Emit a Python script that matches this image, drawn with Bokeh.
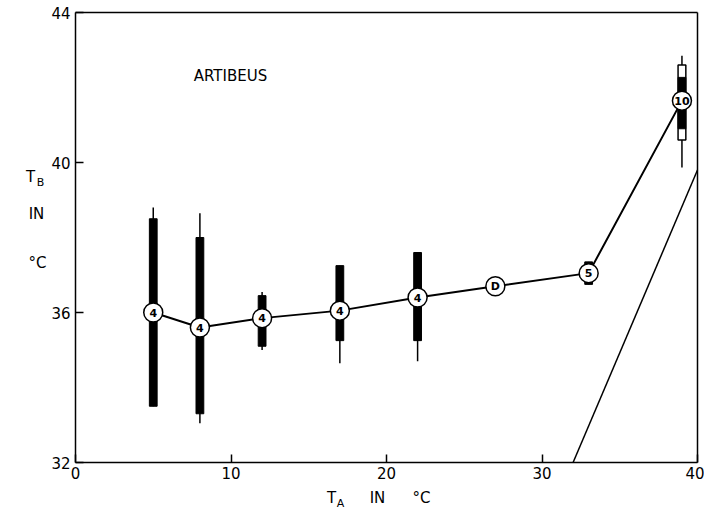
from bokeh.plotting import figure
from bokeh.models import Range1d, FixedTicker, Label, ColumnDataSource, LinearAxis
from bokeh.core.properties import value
from bokeh.embed import file_html
from bokeh.resources import INLINE

# ---- data ----
ta = [5, 8, 12, 17, 22, 27, 33, 39]
tb_mean = [36.0, 35.6, 35.85, 36.05, 36.4, 36.7, 37.05, 41.65]
n_labels = ["4", "4", "4", "4", "4", "D", "5", "10"]
bar_lo = [33.5, 33.3, 35.1, 35.25, 35.25, None, 36.75, 40.9]
bar_hi = [38.5, 38.0, 36.45, 37.25, 37.6, None, 37.35, 42.27]
wh_lo = [33.5, 33.05, 35.0, 34.65, 34.7, None, 36.75, 39.87]
wh_hi = [38.8, 38.65, 36.55, 37.25, 37.6, None, 37.35, 42.85]
sd_lo_39 = [40.6]
sd_hi_39 = [42.6]
eq_x = [32, 40]
eq_y = [32, 39.8]
x_ticks = [0, 10, 20, 30, 40]
y_ticks = [32, 36, 40, 44]

FONT = "DejaVu Sans"
W, H = 704, 512
# frame pixel positions of the data box in the reference
L, R, T, B = 75, 697, 12, 462
sx = (R - L) / 40.0
sy = (B - T) / 12.0

p = figure(width=W, height=H, output_backend="svg", toolbar_location=None,
           x_range=Range1d(0 - L / sx, 40 + (W - R) / sx),
           y_range=Range1d(32 - (H - B) / sy, 44 + T / sy),
           min_border=0)
p.grid.visible = False
p.background_fill_color = "white"
p.border_fill_color = "white"
p.outline_line_color = None

def style_axis(ax, ticks, show_labels=True):
    ax.ticker = FixedTicker(ticks=ticks)
    ax.axis_line_width = 1.5
    ax.axis_line_color = "black"
    ax.major_tick_in = 8 if ticks else 0
    ax.major_tick_out = 0
    ax.minor_tick_in = 0
    ax.minor_tick_out = 0
    ax.major_tick_line_width = 1.5
    ax.major_label_text_font = FONT
    ax.major_label_text_font_size = "15px"
    ax.major_label_text_color = "black"
    if not show_labels:
        ax.major_label_text_font_size = "0px"
        ax.major_tick_in = 0

xa = p.xaxis[0]
ya = p.yaxis[0]
style_axis(xa, x_ticks)
style_axis(ya, y_ticks)
xa.fixed_location = 32
xa.bounds = (0, 40)
ya.fixed_location = 0
ya.bounds = (32, 44)
xa.major_label_standoff = 4
ya.major_label_standoff = 5

top = LinearAxis(fixed_location=44, bounds=(0, 40))
style_axis(top, [], show_labels=False)
p.add_layout(top, "above")
right = LinearAxis(fixed_location=40, bounds=(32, 44))
style_axis(right, [], show_labels=False)
p.add_layout(right, "right")

# whiskers
wx, wl, wh = [], [], []
for x, lo, hi in zip(ta, wh_lo, wh_hi):
    if lo is not None:
        wx.append(x); wl.append(lo); wh.append(hi)
p.segment(x0=wx, y0=wl, x1=wx, y1=wh, line_color="black", line_width=1.5)

# outer white box for last point
p.vbar(x=[ta[-1]], bottom=sd_lo_39, top=sd_hi_39, width=0.5,
       fill_color="white", line_color="black", line_width=1.5)

# black bars
bx, bl, bh = [], [], []
for x, lo, hi in zip(ta, bar_lo, bar_hi):
    if lo is not None:
        bx.append(x); bl.append(lo); bh.append(hi)
p.vbar(x=bx, bottom=bl, top=bh, width=0.5, fill_color="black", line_color="black")

# mean line
p.line(ta, tb_mean, line_color="black", line_width=2)

# Tb = Ta line
p.line(eq_x, eq_y, line_color="black", line_width=1.5)

# circles with n
src = ColumnDataSource(dict(x=ta, y=tb_mean, t=n_labels))
p.scatter("x", "y", source=src, size=19, fill_color="white", line_color="black", line_width=1.5)
p.text("x", "y", text="t", source=src, text_align="center", text_baseline="middle",
       text_font=value(FONT), text_font_size="11px", text_font_style="bold", text_color="black")

def X(px):
    return (px - L) / sx

def Y(py):
    return 44 - (py - T) / sy

def lab(px, py, txt, size="13px", align="center"):
    p.add_layout(Label(x=X(px), y=Y(py), text=txt, text_font=FONT, text_font_size=size,
                       text_align=align, text_baseline="middle", text_color="black"))

lab(230, 75, "ARTIBEUS", size="15px")
# y label
lab(30, 176, "T", size="15px")
lab(40, 182, "B", size="11px")
lab(36, 213, "IN", size="15px")
lab(37, 262, "°C", size="15px")
# x label
lab(331, 497, "T", size="15px")
lab(340, 503, "A", size="11px")
lab(377, 497, "IN", size="15px")
lab(421, 497, "°C", size="15px")

open("out.html", "w").write(file_html(p, INLINE))
